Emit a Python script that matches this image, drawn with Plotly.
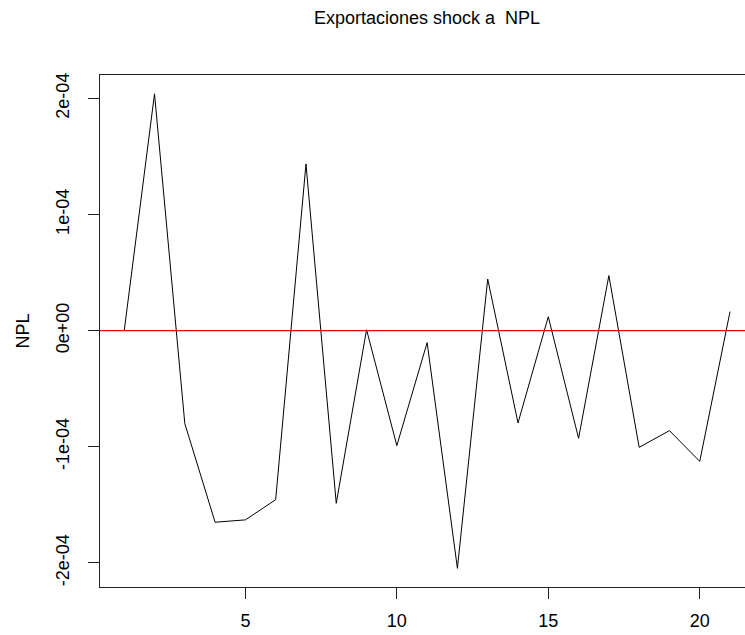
import plotly.graph_objects as go

# Data
periods = list(range(1, 22))
npl_response = [0.0, 2.04e-4, -0.80e-4, -1.65e-4, -1.63e-4, -1.456e-4, 1.436e-4,
                -1.487e-4, 0.008e-4, -0.99e-4, -0.103e-4, -2.047e-4, 0.445e-4,
                -0.795e-4, 0.12e-4, -0.927e-4, 0.474e-4, -1.005e-4, -0.861e-4,
                -1.126e-4, 0.164e-4]

x_tickvals = [5, 10, 15, 20]
y_tickvals = [-2e-4, -1e-4, 0, 1e-4, 2e-4]
y_ticktext = ["-2e-04", "-1e-04", "0e+00", "1e-04", "2e-04"]

title_text = "Exportaciones shock a  NPL"
ylabel = "NPL"

W, H = 745, 635
FONT = "Liberation Sans, Arial, sans-serif"

fig = go.Figure()
fig.add_trace(go.Scatter(x=periods, y=npl_response, mode="lines",
                         line=dict(color="black", width=1), showlegend=False,
                         hoverinfo="skip"))

fig.add_shape(type="line", xref="x domain", yref="y", x0=0, x1=1, y0=0, y1=0,
              line=dict(color="red", width=1.2), layer="above")

fig.update_layout(
    width=W, height=H,
    margin=dict(l=100, r=0, t=75, b=48, pad=0),
    paper_bgcolor="white", plot_bgcolor="white",
    font=dict(family=FONT, size=18, color="black"),
    title=dict(text=title_text, xref="container", yref="container",
               x=427 / W, xanchor="center", y=1 - 18 / H, yanchor="middle",
               font=dict(family=FONT, size=18, color="black")),
    showlegend=False,
)

fig.update_xaxes(range=[0.2, 0.2 + 645 / 30.29], tickvals=x_tickvals,
                 ticks="outside", ticklen=11, tickwidth=1, tickcolor="#222",
                 showline=True, linecolor="#222", linewidth=1, mirror=True,
                 showgrid=False, zeroline=False, ticklabelstandoff=6,
                 tickfont=dict(family=FONT, size=18, color="black"))

fig.update_yaxes(range=[-2.208e-4, 2.202e-4], tickvals=y_tickvals, ticktext=y_ticktext,
                 tickangle=-90, ticks="outside", ticklen=11, tickwidth=1, tickcolor="#222",
                 showline=True, linecolor="#222", linewidth=1, mirror=False,
                 showgrid=False, zeroline=False, ticklabelstandoff=12,
                 tickfont=dict(family=FONT, size=18, color="black"))

fig.add_annotation(text=ylabel, xref="paper", yref="paper",
                   x=(22.5 - 100) / 645, y=0.5, xanchor="center", yanchor="middle",
                   textangle=-90, showarrow=False,
                   font=dict(family=FONT, size=18, color="black"))

fig.write_html("out.html")
